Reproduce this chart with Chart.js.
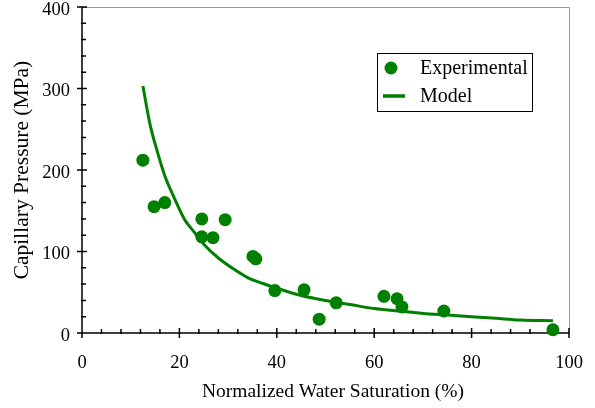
<!DOCTYPE html>
<html>
<head>
<meta charset="utf-8">
<script src="https://cdn.jsdelivr.net/npm/chart.js@4"></script>
<style>
body { margin: 0; background: #fff; }
</style>
</head>
<body>
<canvas id="myChart" width="595" height="408"></canvas>
<script>
// measured points
const satExp = [12.5, 14.8, 17.0, 24.6, 24.6, 26.9, 29.4, 35.1, 35.7, 39.6, 45.6, 48.7, 52.2, 62.0, 64.7, 65.7, 74.3, 96.7];
const presExp = [212, 155, 160, 140, 118, 117, 139, 94, 91, 52, 53, 17, 37, 45, 42, 32, 27, 4];

// model curve
const satModel = [12.5, 14, 15.5, 17, 19, 21, 23, 25, 28, 31, 34, 37, 40, 45, 50, 55, 60, 65, 70, 75, 80, 85, 90, 96.7];
const presModel = [303, 255, 222, 193, 165, 140, 124, 109, 92, 79, 68, 61, 55, 46, 40, 35, 30, 27, 24, 22, 20, 18, 16, 15];

const xTicks = [0, 20, 40, 60, 80, 100];
const yTicks = [0, 100, 200, 300, 400];

const green = '#008000';
const serif = 'Liberation Serif, Times New Roman, serif';

function toPoints(xs, ys) {
    return xs.map((v, i) => ({ x: v, y: ys[i] }));
}

function noPadding(s) {
    s.paddingTop = 0;
    s.paddingBottom = 0;
    s.paddingLeft = 0;
    s.paddingRight = 0;
}

const frameTicks = {
    id: 'frameTicks',
    beforeDatasetsDraw(chart) {
        const { ctx, chartArea: a, scales: { x, y } } = chart;
        ctx.save();
        ctx.strokeStyle = '#999';
        ctx.lineWidth = 1;
        ctx.beginPath();
        ctx.moveTo(a.left, a.top + 0.5);
        ctx.lineTo(a.right + 0.5, a.top + 0.5);
        ctx.lineTo(a.right + 0.5, a.bottom);
        ctx.stroke();

        ctx.strokeStyle = '#000';
        ctx.lineWidth = 1.5;
        ctx.beginPath();
        ctx.moveTo(a.left, a.top);
        ctx.lineTo(a.left, a.bottom);
        ctx.lineTo(a.right, a.bottom);
        for (let v = 0; v <= 100; v += 4) {
            const px = x.getPixelForValue(v);
            const major = v % 20 === 0;
            ctx.moveTo(px, a.bottom + (major ? 5 : 1));
            ctx.lineTo(px, a.bottom - (major ? 5 : 4));
        }
        for (let v = 0; v <= 400; v += 20) {
            const py = y.getPixelForValue(v);
            const major = v % 100 === 0;
            ctx.moveTo(a.left - (major ? 5 : 1), py);
            ctx.lineTo(a.left + (major ? 5 : 4), py);
        }
        ctx.stroke();
        ctx.restore();
    },
    afterDraw(chart) {
        const { ctx } = chart;
        ctx.save();
        // x axis title
        ctx.fillStyle = '#000';
        ctx.font = '19.5px ' + serif;
        ctx.textAlign = 'center';
        ctx.textBaseline = 'middle';
        ctx.fillText('Normalized Water Saturation (%)', 333, 392);

        // legend box
        ctx.strokeStyle = '#000';
        ctx.lineWidth = 1;
        ctx.strokeRect(377.5, 53.5, 155, 58);
        const ds = chart.data.datasets;
        ctx.fillStyle = ds[0].backgroundColor;
        ctx.beginPath();
        ctx.arc(391, 68, 6.5, 0, Math.PI * 2);
        ctx.fill();
        ctx.strokeStyle = ds[1].borderColor;
        ctx.lineWidth = 3.5;
        ctx.beginPath();
        ctx.moveTo(383, 96);
        ctx.lineTo(405, 96);
        ctx.stroke();
        ctx.fillStyle = '#000';
        ctx.font = '20px ' + serif;
        ctx.textAlign = 'left';
        ctx.fillText(ds[0].label, 420, 69);
        ctx.fillText(ds[1].label, 420, 97);
        ctx.restore();
    }
};

const ctx = document.getElementById('myChart');

new Chart(ctx, {
    type: 'scatter',
    data: {
        datasets: [{
            label: 'Experimental',
            data: toPoints(satExp, presExp),
            backgroundColor: green,
            borderColor: green,
            pointRadius: 6.5,
            pointHoverRadius: 6.5,
            borderWidth: 0,
            clip: false,
            order: 0
        }, {
            label: 'Model',
            type: 'line',
            data: toPoints(satModel, presModel),
            borderColor: green,
            borderWidth: 3,
            pointRadius: 0,
            fill: false,
            cubicInterpolationMode: 'monotone',
            clip: false,
            order: 1
        }]
    },
    options: {
        responsive: false,
        animation: false,
        layout: {
            padding: { left: 0, top: 7, right: 26, bottom: 0 }
        },
        plugins: {
            legend: { display: false },
            tooltip: { enabled: false }
        },
        scales: {
            x: {
                type: 'linear',
                min: 0,
                max: 100,
                afterBuildTicks: (s) => { s.ticks = xTicks.map(v => ({ value: v })); },
                afterFit: (s) => { s.height = 75; noPadding(s); },
                grid: { display: false, drawTicks: false },
                border: { display: false },
                ticks: {
                    color: '#000',
                    padding: 19,
                    maxRotation: 0,
                    font: { family: serif, size: 18.5 }
                }
            },
            y: {
                type: 'linear',
                min: 0,
                max: 400,
                afterBuildTicks: (s) => { s.ticks = yTicks.map(v => ({ value: v })); },
                afterFit: (s) => { s.width = 82; noPadding(s); },
                grid: { display: false, drawTicks: false },
                border: { display: false },
                ticks: {
                    color: '#000',
                    padding: 12,
                    labelOffset: 3,
                    font: { family: serif, size: 18.5 }
                },
                title: {
                    display: true,
                    text: 'Capillary Pressure (MPa)',
                    color: '#000',
                    font: { family: serif, size: 21.5 },
                    padding: { top: 9, bottom: 0 }
                }
            }
        }
    },
    plugins: [frameTicks]
});
</script>
</body>
</html>
